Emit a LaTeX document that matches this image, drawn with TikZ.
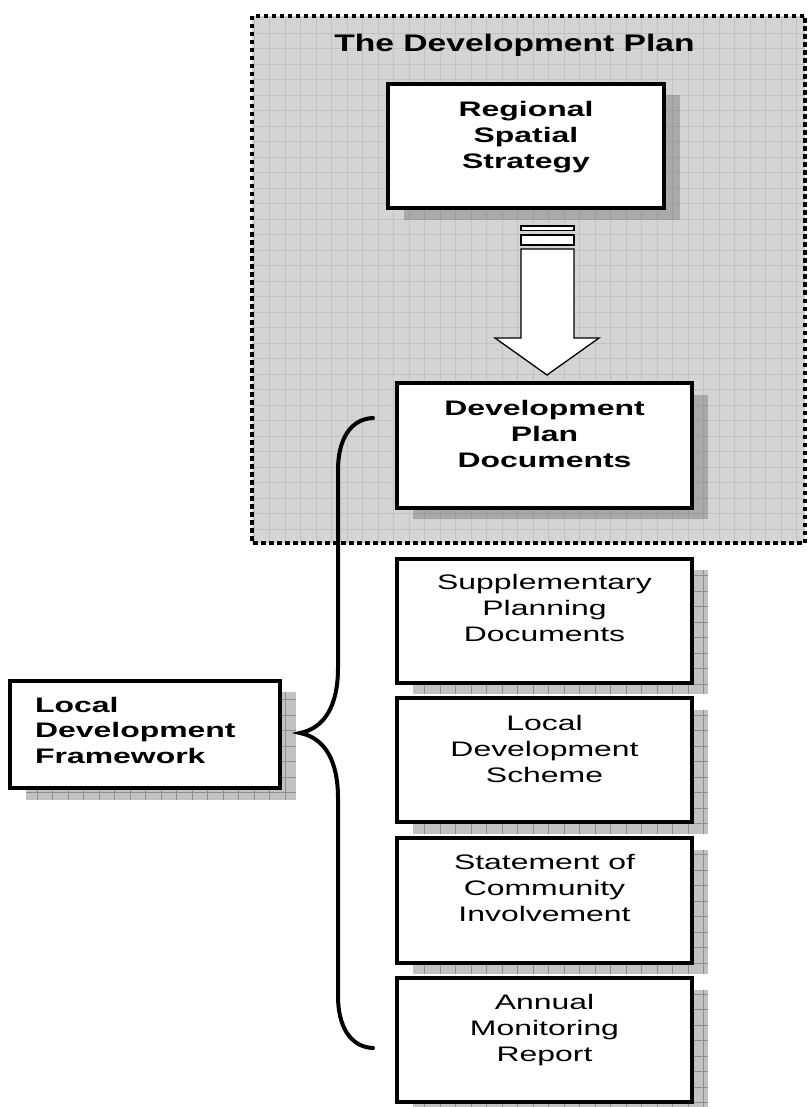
\documentclass[tikz,border=0pt]{standalone}
\usepackage{fontspec}
\setmainfont{Liberation Sans}
\newfontfamily\boxfont[FakeStretch=1.52]{Liberation Sans}
\newfontfamily\titlefont[FakeStretch=1.4]{Liberation Sans}
\definecolor{bggray}{HTML}{D4D4D4}
\definecolor{bgline}{HTML}{C2C2C2}
\definecolor{shin}{HTML}{A9A9A9}
\definecolor{shinline}{HTML}{9C9C9C}
\definecolor{shout}{HTML}{C2C2C2}
\definecolor{shoutline}{HTML}{8E8E8E}
\newcommand\gridrect[6]{%
  \begin{scope}
    \clip (#1,#2) rectangle (#3,#4);
    \fill[#5] (#1,#2) rectangle (#3,#4);
    \foreach \k in {0,...,72} {
      \draw[#6, line width=0.9pt] ({6+\k*15.5},#2) -- ({6+\k*15.5},#4);
      \draw[#6, line width=0.9pt] (#1,{2+\k*15.5}) -- (#3,{2+\k*15.5});
    }
  \end{scope}}
\tikzset{
  box/.style={draw=black, line width=4pt, fill=white, rectangle, inner sep=0pt},
  boldtxt/.style={font=\boxfont\bfseries\fontsize{21}{26}\selectfont, align=center, inner sep=0pt},
  regtxt/.style={font=\boxfont\fontsize{21}{26}\selectfont, align=center, inner sep=0pt},
  bracepath/.style={line width=4pt, line cap=round},
  arrowpath/.style={draw=black, fill=white, line width=1.3pt, line join=miter}
}
\begin{document}
\begin{tikzpicture}[x=1pt,y=-1pt]
\useasboundingbox (0,0) rectangle (807,1107);
\fill[white] (0,0) rectangle (807,1107);
% development plan area
\gridrect{252}{16}{805}{543}{bggray}{bgline}
\draw[line width=4pt, dash pattern=on 4.5pt off 3.5pt] (252,16) rectangle (805,543);
\node[font=\titlefont\bfseries\fontsize{24}{28}\selectfont, anchor=base, inner sep=0pt] (title) at (514.5,52) {The Development Plan};
% shadows
\gridrect{404}{96}{680}{220}{shin}{shinline}
\gridrect{413}{395}{708}{519}{shin}{shinline}
\gridrect{413}{570}{708}{694}{shout}{shoutline}
\gridrect{413}{710}{708}{834}{shout}{shoutline}
\gridrect{413}{850}{708}{974}{shout}{shoutline}
\gridrect{413}{990}{708}{1114}{shout}{shoutline}
\gridrect{26}{692}{296}{800}{shout}{shoutline}
% boxes
\node[box, minimum width=276pt, minimum height=124pt] (rss) at (526,146) {};
\node[box, minimum width=295pt, minimum height=125pt] (dpd) at (544.5,445.5) {};
\node[box, minimum width=295pt, minimum height=124pt] (spd) at (544.5,620.5) {};
\node[box, minimum width=295pt, minimum height=124pt] (lds) at (544.5,760) {};
\node[box, minimum width=295pt, minimum height=125pt] (sci) at (544.5,900.5) {};
\node[box, minimum width=295pt, minimum height=124pt] (amr) at (544.5,1040) {};
\node[box, minimum width=270pt, minimum height=107pt] (ldf) at (145,734.5) {};
% texts (base = baseline of last line)
\node[boldtxt, anchor=base] (rsst) at (526,169) {Regional\\Spatial\\Strategy};
\node[boldtxt, anchor=base] (dpdt) at (544.5,467) {Development\\Plan\\Documents};
\node[regtxt, anchor=base] (spdt) at (544.5,641) {Supplementary\\Planning\\Documents};
\node[regtxt, anchor=base] (ldst) at (544.5,782) {Local\\Development\\Scheme};
\node[regtxt, anchor=base] (scit) at (544.5,921) {Statement of\\Community\\Involvement};
\node[regtxt, anchor=base] (amrt) at (544.5,1061) {Annual\\Monitoring\\Report};
\node[boldtxt, align=left, anchor=base west, font=\boxfont\bfseries\fontsize{21}{25.5}\selectfont] (ldft) at (35,763) {Local\\Development\\Framework};
% block arrow
\draw[arrowpath] (521,226) rectangle (574,230.5);
\draw[arrowpath] (521,235) rectangle (574,245);
\draw[arrowpath] (521,249) -- (574,249) -- (574,338) -- (599,338) -- (547,375) -- (495,338) -- (521,338) -- cycle;
% brace
\coordinate (bt) at (373,418);
\coordinate (bb) at (373,1048);
\coordinate (tip) at (300,733);
\draw[bracepath] (bt) .. controls (350,419) and (338,440) .. (338,470)
  -- (338,668) .. controls (338,705) and (325,728) .. (tip)
  .. controls (325,738) and (338,761) .. (338,798)
  -- (338,996) .. controls (338,1026) and (350,1047) .. (bb);
\end{tikzpicture}
\end{document}
